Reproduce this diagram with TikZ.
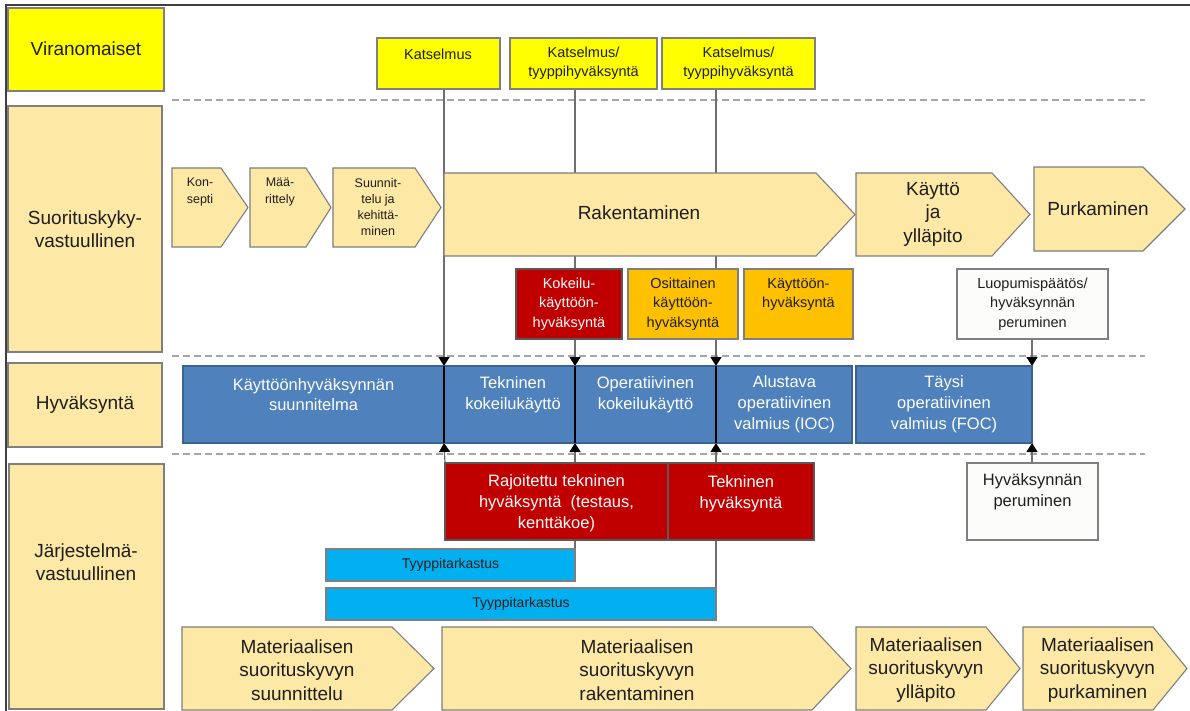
\documentclass[tikz,border=0pt]{standalone}
\usepackage{fontspec}
\setmainfont{Liberation Sans}
\usetikzlibrary{arrows.meta,fit}
\pgfdeclarelayer{paperlayer}
\pgfdeclarelayer{background}
\pgfsetlayers{paperlayer,background,main}

\definecolor{lightgold}{HTML}{FDE9A5}
\definecolor{vyellow}{HTML}{FFFF00}
\definecolor{rred}{HTML}{C00000}
\definecolor{oorange}{HTML}{FFC000}
\definecolor{bblue}{HTML}{4F81BD}
\definecolor{bblueline}{HTML}{3A6295}
\definecolor{ccyan}{HTML}{00B0F0}
\definecolor{edgegray}{HTML}{7F7F7F}
\definecolor{dashgray}{HTML}{A6A6A6}
\definecolor{conngray}{HTML}{6F6F6F}
\definecolor{txtdark}{HTML}{1E1E1E}
\definecolor{paper}{HTML}{FCFCFA}

\newcommand\FntBig{\fontsize{19}{23.5}\selectfont}
\newcommand\FntBlue{\fontsize{16.5}{20.8}\selectfont}
\newcommand\FntMid{\fontsize{14.5}{19.3}\selectfont}
\newcommand\FntTiny{\fontsize{12.5}{16.3}\selectfont}
\newcommand\FntCyan{\fontsize{14}{16}\selectfont}

% rectangle given by its two corners (pixel units, y downwards)
\newcommand\rectbox[6]{\node[#1, fit={(#3,#4) (#5,#6)}] (#2) {};}
% arrow-shaped phase block: left x, top y, end of straight part, tip x, bottom y
\newcommand\chevronshape[5]{%
  \path[chevron] (#1,#2) -- (#3,#2) -- (#4,{(#2+#5)/2}) -- (#3,#5) -- (#1,#5) -- cycle;}

\tikzset{
  box/.style={draw=edgegray, line width=1.1, inner sep=0, outer sep=0},
  lanebox/.style={box, fill=lightgold},
  authbox/.style={box, fill=vyellow},
  redbox/.style={box, fill=rred, draw=edgegray!70!black},
  orangebox/.style={box, fill=oorange},
  whitebox/.style={box, fill=paper},
  bluebox/.style={box, fill=bblue, draw=bblueline},
  cyanbox/.style={box, fill=ccyan, draw=edgegray},
  chevron/.style={fill=lightgold, draw=edgegray, line width=1.1, line join=miter},
  txt/.style={inner sep=0, align=center, text=txtdark},
  wtxt/.style={inner sep=0, align=center, text=white},
  sep/.style={draw=dashgray, line width=1.6, dash pattern=on 7pt off 4pt},
  conn/.style={draw=conngray, line width=1.2},
  tip/.style={-{Triangle[length=9pt,width=11pt,color=black]}},
  divider/.style={draw=black, line width=1.2},
  frame/.style={draw=black!75, line width=1.6},
}

\begin{document}
\begin{tikzpicture}[x=1pt,y=-1pt]
\useasboundingbox (0,0) rectangle (1190,711);
\begin{pgfonlayer}{paperlayer}
  \fill[white] (0,0) rectangle (1190,711);
\end{pgfonlayer}

% page frame
\coordinate (fTL) at (6,5);
\coordinate (fTR) at (1190,5);
\coordinate (fBL) at (6,711);
\draw[frame] (fTR) -- (fTL) -- (fBL);

% ---- swimlane labels ----
\rectbox{authbox}{vir}{8}{8}{164}{91}
\node[txt, font=\FntBig] (vir-t) at (86,49) {Viranomaiset};
\rectbox{lanebox}{suo}{8}{106}{162}{352}
\node[txt, font=\FntBig] (suo-t) at (85,229) {Suorituskyky-\\vastuullinen};
\rectbox{lanebox}{hyv}{8}{363}{162}{447}
\node[txt, font=\FntBig] (hyv-t) at (85,405) {Hyväksyntä};
\rectbox{lanebox}{jar}{9}{464}{164}{709}
\node[txt, font=\FntBig] (jar-t) at (86,562) {Järjestelmä-\\vastuullinen};

% ---- authority reviews ----
\rectbox{authbox}{kat1}{377}{38}{500}{89}
\node[txt, font=\FntMid] (kat1-t) at (438,54) {Katselmus};
\rectbox{authbox}{kat2}{510}{38}{657}{89}
\node[txt, font=\FntMid] (kat2-t) at (583.5,63) {Katselmus/\\tyyppihyväksyntä};
\rectbox{authbox}{kat3}{662}{38}{815}{89}
\node[txt, font=\FntMid] (kat3-t) at (738.5,63) {Katselmus/\\tyyppihyväksyntä};

% ---- life-cycle phases ----
\chevronshape{172}{168}{221}{248}{247}
\node[txt, font=\FntTiny] (kon) at (200,192) {Kon-\\septi};
\chevronshape{250}{168}{306}{331}{247}
\node[txt, font=\FntTiny] (maa) at (280,192) {Mää-\\rittely};
\chevronshape{333}{168}{415}{441}{247}
\node[txt, font=\FntTiny] (suu) at (378,207) {Suunnit-\\telu ja\\kehittä-\\minen};
\chevronshape{444}{173}{816}{855}{256}
\node[txt, font=\FntBig] (rak) at (639,213) {Rakentaminen};
\chevronshape{856}{173}{992}{1030}{256}
\node[txt, font=\FntBig] (kay) at (933,214) {Käyttö\\ja\\ylläpito};
\chevronshape{1034}{167}{1143}{1185}{251}
\node[txt, font=\FntBig] (pur) at (1098,209) {Purkaminen};

% ---- approval decisions ----
\rectbox{redbox}{kok}{516}{269}{622}{339}
\node[wtxt, font=\FntMid] (kok-t) at (569,304) {Kokeilu-\\käyttöön-\\hyväksyntä};
\rectbox{orangebox}{osi}{628}{269}{738}{339}
\node[txt, font=\FntMid] (osi-t) at (683,304) {Osittainen\\käyttöön-\\hyväksyntä};
\rectbox{orangebox}{kyh}{744}{269}{853}{339}
\node[txt, font=\FntMid] (kyh-t) at (798.5,294.5) {Käyttöön-\\hyväksyntä};
\rectbox{whitebox}{luo}{957}{269}{1108}{339}
\node[txt, font=\FntMid] (luo-t) at (1032.5,304) {Luopumispäätös/\\hyväksynnän\\peruminen};

% ---- approval stages ----
\rectbox{bluebox}{b1}{183}{366}{444}{443}
\node[wtxt, font=\FntBlue] (b1-t) at (313.5,394.5) {Käyttöönhyväksynnän\\suunnitelma};
\rectbox{bluebox}{b2}{444}{366}{575}{443}
\node[wtxt, font=\FntBlue] (b2-t) at (513,394.5) {Tekninen\\kokeilukäyttö};
\rectbox{bluebox}{b3}{575}{366}{716}{443}
\node[wtxt, font=\FntBlue] (b3-t) at (645.5,394.5) {Operatiivinen\\kokeilukäyttö};
\rectbox{bluebox}{b4}{716}{366}{852}{443}
\node[wtxt, font=\FntBlue] (b4-t) at (784.5,404) {Alustava\\operatiivinen\\valmius (IOC)};
\rectbox{bluebox}{b5}{856}{366}{1032}{443}
\node[wtxt, font=\FntBlue] (b5-t) at (944,404) {Täysi\\operatiivinen\\valmius (FOC)};
\draw[divider] (b1.north east) -- (b1.south east);
\draw[divider] (b2.north east) -- (b2.south east);
\draw[divider] (b3.north east) -- (b3.south east);

% ---- technical approvals ----
\rectbox{redbox}{r1}{445}{463}{668}{540}
\node[wtxt, font=\FntBlue] (r1-t) at (556.5,503.5) {Rajoitettu tekninen\\hyväksyntä\ \ (testaus,\\kenttäkoe)};
\rectbox{redbox}{r2}{668}{463}{814}{540}
\node[wtxt, font=\FntBlue] (r2-t) at (741,493.5) {Tekninen\\hyväksyntä};
\rectbox{whitebox}{hpe}{967}{463}{1098}{540}
\node[txt, font=\FntBlue] (hpe-t) at (1032.5,492) {Hyväksynnän\\peruminen};

\rectbox{cyanbox}{t1}{326}{549}{575}{581}
\node[txt, font=\FntCyan] (t1-t) at (t1.center) {Tyyppitarkastus};
\rectbox{cyanbox}{t2}{326}{588}{716}{620}
\node[txt, font=\FntCyan] (t2-t) at (t2.center) {Tyyppitarkastus};

% ---- material capability phases ----
\chevronshape{182}{627}{392}{434}{710}
\node[txt, font=\FntBig] (ms1) at (297,670) {Materiaalisen\\suorituskyvyn\\suunnittelu};
\chevronshape{442}{627}{812}{851}{710}
\node[txt, font=\FntBig] (ms2) at (637,670) {Materiaalisen\\suorituskyvyn\\rakentaminen};
\chevronshape{856}{627}{986}{1020}{710}
\node[txt, font=\FntBig] (ms3) at (926,670) {Materiaalisen\\suorituskyvyn\\ylläpito};
\chevronshape{1023}{627}{1153}{1187}{710}
\node[txt, font=\FntBig] (ms4) at (1097.5,670) {Materiaalisen\\suorituskyvyn\\purkaminen};

% ---- lane separators and links (behind the boxes) ----
\begin{pgfonlayer}{background}
  \coordinate (s1a) at (172,100);  \coordinate (s1b) at (1145,100);
  \coordinate (s2a) at (172,356);  \coordinate (s2b) at (1145,356);
  \coordinate (s3a) at (172,454);  \coordinate (s3b) at (1145,454);
  \draw[sep] (s1a) -- (s1b);
  \draw[sep] (s2a) -- (s2b);
  \draw[sep] (s3a) -- (s3b);

  \draw[conn, tip] (kat1.south -| b2.north west) -- (b2.north west);
  \draw[conn] (kat2.south -| b3.north west) -- (kok.north -| b3.north west);
  \draw[conn, tip] (kok.south -| b3.north west) -- (b3.north west);
  \draw[conn, tip] (kat3.south -| b4.north west) -- (b4.north west);
  \draw[conn, tip] (luo.south -| b5.north east) -- (b5.north east);

  \draw[conn, tip] (r1.north west) -- (b2.south west);
  \draw[conn, tip] (t1.north east) -- (b3.south west);
  \draw[conn, tip] (t2.north east) -- (b4.south west);
  \draw[conn, tip] (hpe.north -| b5.south east) -- (b5.south east);
\end{pgfonlayer}
\end{tikzpicture}
\end{document}
